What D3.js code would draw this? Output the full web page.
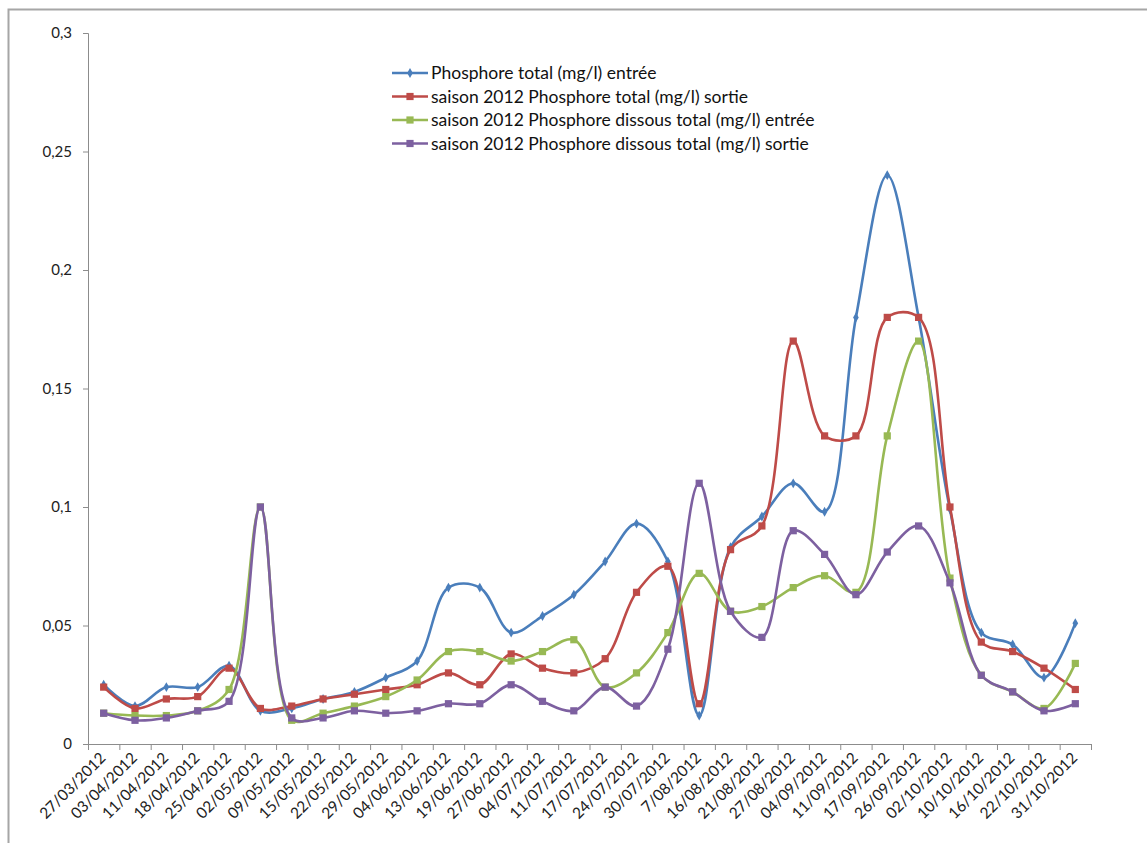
<!DOCTYPE html>
<html><head><meta charset="utf-8">
<script src="https://cdn.jsdelivr.net/npm/d3@7"></script>
<style>body{margin:0;background:#fff} svg{display:block}</style>
</head><body><svg id="c" width="1147" height="843"></svg>
<script>
const categories=["27/03/2012","03/04/2012","11/04/2012","18/04/2012","25/04/2012","02/05/2012","09/05/2012","15/05/2012","22/05/2012","29/05/2012","04/06/2012","13/06/2012","19/06/2012","27/06/2012","04/07/2012","11/07/2012","17/07/2012","24/07/2012","30/07/2012","7/08/2012","16/08/2012","21/08/2012","27/08/2012","04/09/2012","11/09/2012","17/09/2012","26/09/2012","02/10/2012","10/10/2012","16/10/2012","22/10/2012","31/10/2012"];
const ptEntree=[0.025,0.016,0.024,0.024,0.033,0.014,0.015,0.019,0.022,0.028,0.035,0.066,0.066,0.047,0.054,0.063,0.077,0.093,0.077,0.012,0.083,0.096,0.110,0.098,0.180,0.240,0.180,0.099,0.047,0.042,0.028,0.051];
const ptSortie=[0.024,0.015,0.019,0.020,0.032,0.015,0.016,0.019,0.021,0.023,0.025,0.030,0.025,0.038,0.032,0.030,0.036,0.064,0.075,0.017,0.082,0.092,0.170,0.130,0.130,0.180,0.180,0.100,0.043,0.039,0.032,0.023];
const pdEntree=[0.013,0.012,0.012,0.014,0.023,0.100,0.010,0.013,0.016,0.020,0.027,0.039,0.039,0.035,0.039,0.044,0.024,0.030,0.047,0.072,0.056,0.058,0.066,0.071,0.064,0.130,0.170,0.070,0.029,0.022,0.015,0.034];
const pdSortie=[0.013,0.010,0.011,0.014,0.018,0.100,0.011,0.011,0.014,0.013,0.014,0.017,0.017,0.025,0.018,0.014,0.024,0.016,0.040,0.110,0.056,0.045,0.090,0.080,0.063,0.081,0.092,0.068,0.029,0.022,0.014,0.017];
const seriesNames=["Phosphore total (mg/l) entrée","saison 2012 Phosphore total (mg/l) sortie","saison 2012 Phosphore dissous total (mg/l) entrée","saison 2012 Phosphore dissous total (mg/l) sortie"];
const yTicks=[0,0.05,0.1,0.15,0.2,0.25,0.3];

const colors=["#4A7EBB","#BE4B48","#98B954","#7D60A0"];
const markers=["diamond","square","square","square"];
const series=[ptEntree,ptSortie,pdEntree,pdSortie].map((v,i)=>({name:seriesNames[i],values:v,color:colors[i],marker:markers[i]}));

const svg=d3.select("#c");
const font="Lato, 'Open Sans', sans-serif";
// frame
svg.append("path").attr("d","M8.5,843 L8.5,9.5 L1147,9.5").attr("fill","none").attr("stroke","#a6a6a6").attr("stroke-width",2);

const x=d3.scaleBand().domain(categories).range([88,1091]);
const y=d3.scaleLinear().domain([0,0.3]).range([744,33]);
const cx=c=>x(c)+x.bandwidth()/2;

// y axis
const ya=svg.append("g").attr("transform","translate(88,0)")
  .call(d3.axisLeft(y).tickValues(yTicks).tickSize(5).tickPadding(11).tickFormat(d=>String(+d.toFixed(2)).replace(".",",")));
ya.select(".domain").attr("stroke","#8c8c8c");
ya.selectAll(".tick line").attr("stroke","#8c8c8c");
ya.selectAll("text").attr("font-family",font).attr("font-size",15).attr("fill","#222");

// x axis line + boundary ticks
const xg=svg.append("g");
xg.append("line").attr("x1",88).attr("x2",1091).attr("y1",y(0)+0.5).attr("y2",y(0)+0.5).attr("stroke","#8c8c8c");
const bounds=categories.map(c=>x(c)).concat([x.range()[1]]);
xg.selectAll(".bt").data(bounds).join("line").attr("x1",d=>d+0.5).attr("x2",d=>d+0.5).attr("y1",y(0)).attr("y2",y(0)+6).attr("stroke","#8c8c8c");
xg.selectAll(".xl").data(categories).join("text")
  .attr("transform",d=>`translate(${cx(d)+3},${y(0)+15}) rotate(-45)`)
  .attr("text-anchor","end").attr("font-family",font).attr("font-size",15.5).attr("fill","#222").text(d=>d);

// lines
const line=d3.line().x((d,i)=>cx(categories[i])).y(d=>y(d)).curve(d3.curveCatmullRom.alpha(0.5));
const sym={diamond:d3.symbol().type(d3.symbolDiamond).size(28),square:d3.symbol().type(d3.symbolSquare).size(52)};
series.forEach(s=>{
  const g=svg.append("g");
  g.append("path").attr("d",line(s.values)).attr("fill","none").attr("stroke",s.color).attr("stroke-width",2.6);
  g.selectAll("path.m").data(s.values).join("path").attr("class","m")
    .attr("transform",(d,i)=>`translate(${cx(categories[i])},${y(d)})`)
    .attr("d",sym[s.marker]).attr("fill",s.color);
});

// legend
const lg=svg.append("g");
series.forEach((s,i)=>{
  const yy=73+i*23.5;
  lg.append("line").attr("x1",392).attr("x2",428).attr("y1",yy).attr("y2",yy).attr("stroke",s.color).attr("stroke-width",2.6);
  lg.append("path").attr("transform",`translate(410,${yy})`).attr("d",sym[s.marker]).attr("fill",s.color);
  lg.append("text").attr("x",431).attr("y",yy).attr("dy","0.35em").attr("font-family",font).attr("font-size",17.5).attr("fill","#111").text(s.name);
});
</script></body></html>
